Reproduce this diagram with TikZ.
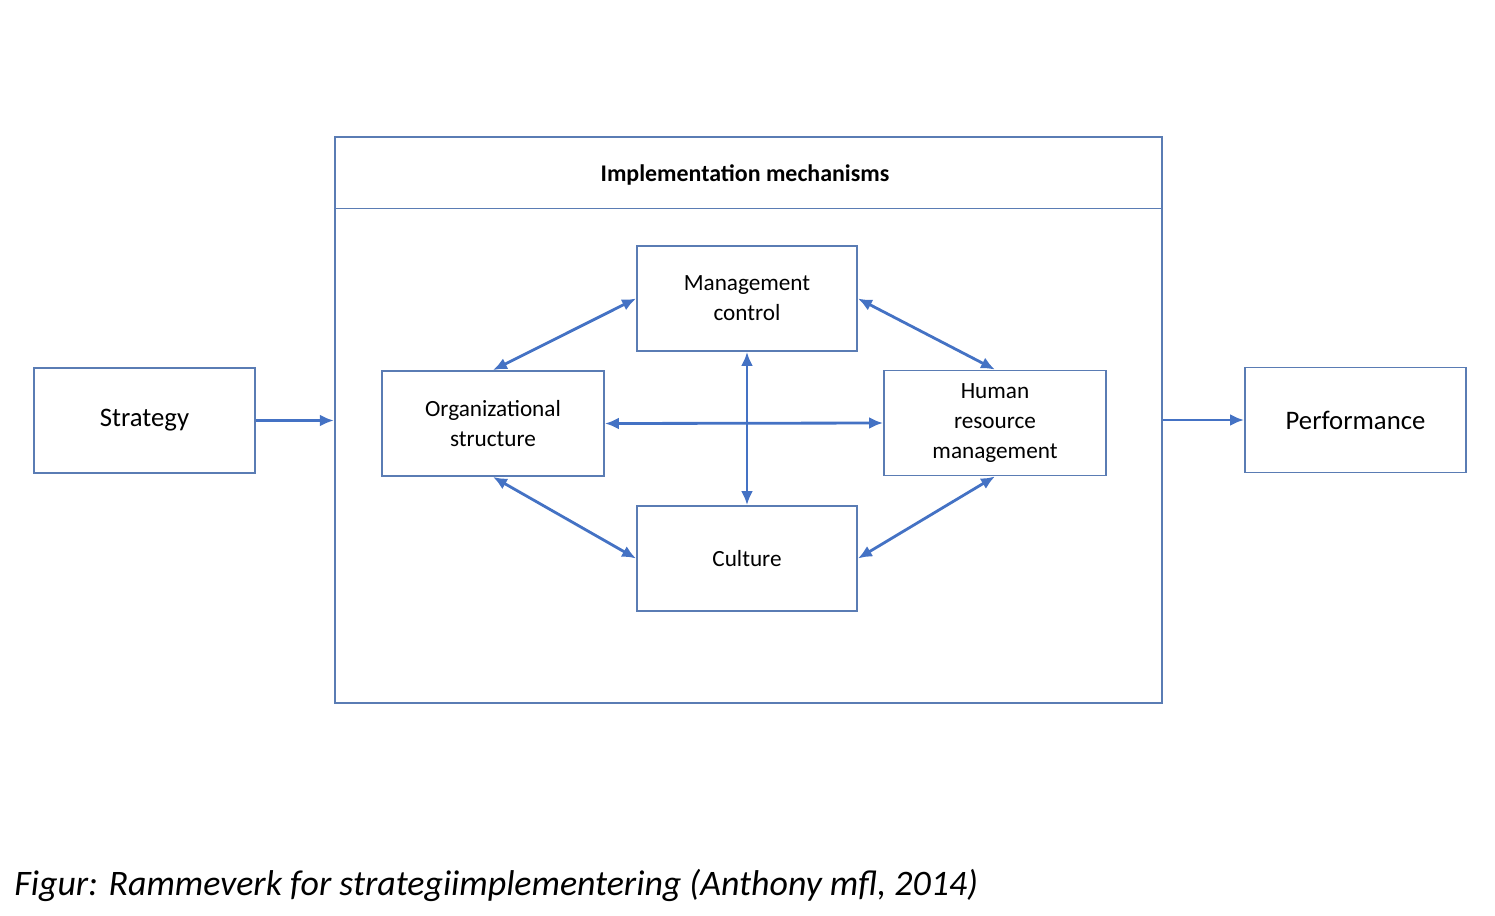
\documentclass[tikz,border=0pt]{standalone}
\usepackage{fontspec}
\setmainfont{Carlito}
\usetikzlibrary{arrows.meta}
\definecolor{boxblue}{RGB}{90,124,180}
\definecolor{arrowblue}{RGB}{68,114,196}

\tikzset{
    block/.style={draw=boxblue, line width=0.5pt, minimum width=2.2cm, minimum height=1.05cm, align=center, font=\fontsize{6.6}{8.6}\selectfont, inner sep=1pt},
    link/.style={draw=arrowblue, line width=0.8pt, {Latex[length=1.4mm,width=1.2mm]}-{Latex[length=1.4mm,width=1.2mm]}},
    flow/.style={draw=arrowblue, line width=0.8pt, -{Latex[length=1.4mm,width=1.2mm]}}
}

\begin{document}
\begin{tikzpicture}[x=0.01cm, y=-0.01cm]
    \useasboundingbox (0,0) rectangle (1495,915);

    \node[block, minimum width=2.21cm, font=\fontsize{7.6}{9}\selectfont] (strategy) at (144.5,420.5) {Strategy};
    \node[block, minimum width=2.21cm, font=\fontsize{7.6}{9}\selectfont] (perf) at (1355.5,420) {Performance};

    \node[draw=boxblue, line width=0.5pt, minimum width=8.27cm, minimum height=5.66cm, inner sep=0pt] (mech) at (748.5,420) {};
    \draw[boxblue, line width=0.3pt] (mech.north west) ++(0,73) coordinate (hl) -- (hl -| mech.east);
    \node[font=\bfseries\fontsize{6.8}{8}\selectfont] (title) at (745,175) {Implementation mechanisms};

    \node[block] (mc) at (747,298.5) {Management\\control};
    \node[block, minimum width=2.22cm] (org) at (493,423.5) {Organizational\\structure};
    \node[block, minimum width=2.22cm] (hrm) at (995,423) {Human\\resource\\management};
    \node[block] (cult) at (747,558.5) {Culture};

    \draw[link] (org.north) -- (mc.west);
    \draw[link] (mc.east) -- (hrm.north);
    \draw[link] (org.south) -- (cult.west);
    \draw[link] (cult.east) -- (hrm.south);
    \draw[link] (org.east) -- (hrm.west);
    \draw[link] (mc.south) -- (cult.north);

    \draw[flow] (strategy.east) -- (strategy.east -| mech.west);
    \draw[flow] (perf.west -| mech.east) -- (perf.west);

    \node[anchor=west, font=\itshape\fontsize{10.2}{12}\selectfont] (caption) at (2,885) {Figur: Rammeverk for strategiimplementering (Anthony mfl, 2014)};
\end{tikzpicture}
\end{document}
